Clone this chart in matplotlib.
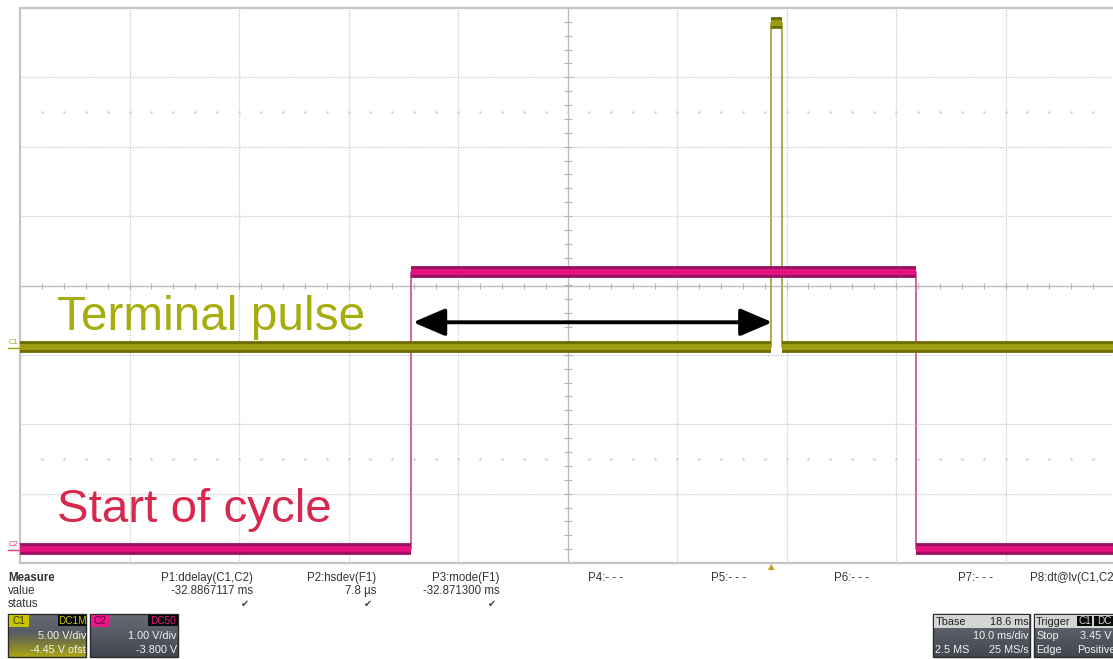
import numpy as np
import matplotlib.pyplot as plt
from matplotlib.patches import Rectangle, FancyArrowPatch
from matplotlib.lines import Line2D

plt.rcParams['font.family'] = ['Liberation Sans', 'DejaVu Sans']

# ---- scope data (time in ms, voltage in V) ----
c1_t = [0, 68.6, 68.6, 69.6, 69.6, 100]
c1_v = [0.0, 0.0, 23.4, 23.4, 0.0, 0.0]
c2_t = [0, 35.7, 35.7, 81.8, 81.8, 100]
c2_v = [0.0, 0.0, 4.0, 4.0, 0.0, 0.0]
c1_vdiv, c1_ofst = 5.0, -4.45
c2_vdiv, c2_ofst = 1.0, -3.8
arrow_t = [35.9, 68.7]

meas_names = ['P1:ddelay(C1,C2)', 'P2:hsdev(F1)', 'P3:mode(F1)', 'P4:- - -',
              'P5:- - -', 'P6:- - -', 'P7:- - -', 'P8:dt@lv(C1,C2)']
meas_values = ['-32.8867117 ms', '7.8 µs', '-32.871300 ms', '', '', '', '', '']
meas_ok = [True, True, True, False, False, False, False, False]

W, H = 1113, 659
fig = plt.figure(figsize=(W / 100, H / 100), dpi=100)
fig.patch.set_facecolor('white')


def px(x, y):
    return x / W, 1 - y / H


ax = fig.add_axes([20 / W, 1 - 563 / H, 1095 / W, 555 / H])
ax.set_xlim(0, 100)
ax.set_ylim(-4, 4)
ax.set_xticks([])
ax.set_yticks([])
for s in ax.spines.values():
    s.set_color('#c4c4c4')
    s.set_linewidth(1.6)

# grid
grid_col = '#c9c9c9'
for t in range(10, 100, 10):
    if t == 50:
        ax.axvline(t, color='#bdbdbd', lw=1.0, zorder=1)
    else:
        ax.axvline(t, color=grid_col, lw=0.9, ls=(0, (1, 1)), zorder=1)
for v in range(-3, 4):
    if v == 0:
        ax.axhline(v, color='#bdbdbd', lw=1.0, zorder=1)
    else:
        ax.axhline(v, color=grid_col, lw=0.9, ls=(0, (1, 1)), zorder=1)
# minor ticks on the centre cross, dot rows at +-2.5 div
tk = np.arange(2, 100, 2)
ax.plot(tk, np.zeros_like(tk), ls='none', marker='|', ms=5, mew=0.8, color='#b5b5b5', zorder=1)
vk = np.arange(-3.8, 4, 0.2)
ax.plot(np.full_like(vk, 50), vk, ls='none', marker='_', ms=6, mew=0.8, color='#b5b5b5', zorder=1)
for yy in (2.5, -2.5):
    ax.plot(tk, np.full_like(tk, yy, dtype=float), ls='none', marker='.', ms=1.5,
            color='#cfcfcf', zorder=1)


def trace(t, v, vdiv, ofst, thin, dark, core, band):
    y = [(vv + ofst) / vdiv for vv in v]
    ax.plot(t, y, color=thin, lw=1.3, zorder=3)
    for i in range(len(t) - 1):
        if y[i] == y[i + 1] and t[i] != t[i + 1]:
            ax.plot([t[i], t[i + 1]], [y[i], y[i]], color=dark, lw=band,
                    solid_capstyle='butt', zorder=4)
            ax.plot([t[i], t[i + 1]], [y[i], y[i]], color=core, lw=band * 0.5,
                    solid_capstyle='butt', zorder=5)


trace(c2_t, c2_v, c2_vdiv, c2_ofst, '#c85a9c', '#9c1060', '#e2127f', 8.5)
trace(c1_t, c1_v, c1_vdiv, c1_ofst, '#a7a640', '#6f6d00', '#9e9c10', 8.5)

# delay arrow
ya = -0.53
arr = FancyArrowPatch((arrow_t[0], ya), (arrow_t[1], ya),
                      arrowstyle='<|-|>,head_length=1.4,head_width=0.6',
                      mutation_scale=14, lw=2.8, color='black', zorder=6,
                      shrinkA=0, shrinkB=0)
ax.add_patch(arr)

ax.text(3.4, -0.64, 'Terminal pulse', color='#a6ad0e', fontsize=34.4, va='baseline', zorder=7)
ax.text(3.4, -3.41, 'Start of cycle', color='#d8284e', fontsize=34.2, va='baseline', zorder=7)

# channel markers at left edge
for yv, lab, col in (((0 + c1_ofst) / c1_vdiv, 'C1', '#a6a600'),
                     ((0 + c2_ofst) / c2_vdiv, 'C2', '#e0307f')):
    ypx = 285.5 - yv * 69.4
    fig.text(*px(9, ypx - 1), lab, color=col, fontsize=5.5, va='bottom', ha='left',
             rotation=0)
    fig.add_artist(Line2D([8 / W, 20 / W], [1 - (ypx + 0.5) / H] * 2, color=col, lw=1))

# trigger marker
fig.text(*px(771, 567), '▲', color='#b5a800', fontsize=6, ha='center', va='center',
         family=['DejaVu Sans'])

# measurement table
small = 8.3
txt = '#333333'
fig.text(*px(8, 578), 'Measure', fontsize=small, weight='bold', color=txt, va='center')
fig.text(*px(8, 591), 'value', fontsize=small, color=txt, va='center')
fig.text(*px(8, 604), 'status', fontsize=small, color=txt, va='center')
for i, (n, v, ok) in enumerate(zip(meas_names, meas_values, meas_ok)):
    xr = 253 + i * 123.3
    ha = 'right'
    xx = xr
    if i == 7:
        ha, xx = 'left', 1030
    fig.text(*px(xx, 578), n, fontsize=small, color=txt, va='center', ha=ha)
    if v:
        fig.text(*px(xr, 591), v, fontsize=small, color=txt, va='center', ha='right')
    if ok:
        fig.text(*px(xr - 4, 604), '✔', fontsize=7, color='#444444', va='center',
                 ha='right', family=['DejaVu Sans'])


def box_bg(x0, y0, w, h, glow=None):
    bax = fig.add_axes([x0 / W, 1 - (y0 + h) / H, w / W, h / H])
    g = np.linspace(0, 1, 60)[:, None]
    top = np.array([0.40, 0.42, 0.46])
    bot = np.array([0.26, 0.28, 0.31])
    img = top + (bot - top) * g[..., None]
    if glow is not None:
        gw = np.clip((g - 0.4) / 0.6, 0, 1)[..., None]
        img = img * (1 - 0.85 * gw) + np.array(glow) * 0.85 * gw
    bax.imshow(np.repeat(img, 2, axis=1), aspect='auto', extent=(0, 1, 0, 1))
    bax.set_xlim(0, 1)
    bax.set_ylim(0, 1)
    bax.axis('off')
    fig.add_artist(Rectangle(px(x0, y0 + h), w / W, h / H, fill=False,
                             ec='#2a2a2a', lw=1))


def tag(x0, y0, w, h, s, fc, tc):
    fig.add_artist(Rectangle(px(x0, y0 + h), w / W, h / H, fc=fc, ec='none'))
    fig.text(*px(x0 + w / 2, y0 + h / 2 + 0.5), s, fontsize=7.2, color=tc,
             ha='center', va='center')


white = '#f2f2f2'
# C1 box
box_bg(8, 614, 78, 43, glow=(0.74, 0.72, 0.05))
tag(9, 615, 20, 12, 'C1', '#c9c400', '#3a3a00')
tag(58, 615, 28, 11, 'DC1M', '#0a0a0a', '#c8c400')
fig.text(*px(86, 636), '5.00 V/div', fontsize=7.8, color=white, ha='right', va='center')
fig.text(*px(86, 650), '-4.45 V ofst', fontsize=7.8, color=white, ha='right', va='center')
# C2 box
box_bg(90, 614, 88, 43)
tag(91, 615, 18, 12, 'C2', '#e8198c', '#5a0030')
tag(148, 615, 30, 11, 'DC50', '#0a0a0a', '#e0207f')
fig.text(*px(177, 636), '1.00 V/div', fontsize=7.8, color=white, ha='right', va='center')
fig.text(*px(177, 650), '-3.800 V', fontsize=7.8, color=white, ha='right', va='center')

# Tbase box
box_bg(933, 614, 97, 43)
fig.add_artist(Rectangle(px(934, 628), 95 / W, 13 / H, fc='#d4d4d4', ec='none'))
fig.text(*px(936, 622), 'Tbase', fontsize=7.8, color='#222222', va='center')
fig.text(*px(1029, 622), '18.6 ms', fontsize=7.8, color='#222222', va='center', ha='right')
fig.text(*px(1029, 636), '10.0 ms/div', fontsize=7.8, color=white, va='center', ha='right')
fig.text(*px(935, 650), '2.5 MS', fontsize=7.8, color=white, va='center')
fig.text(*px(1029, 650), '25 MS/s', fontsize=7.8, color=white, va='center', ha='right')

# Trigger box (cut by the right edge, as in the screenshot)
box_bg(1034, 614, 90, 43)
fig.add_artist(Rectangle(px(1035, 628), 88 / W, 13 / H, fc='#d4d4d4', ec='none'))
fig.text(*px(1036, 622), 'Trigger', fontsize=7.8, color='#222222', va='center')
tag(1077, 616, 15, 10, 'C1', '#0a0a0a', '#d0d0d0')
tag(1094, 616, 20, 10, 'DC', '#0a0a0a', '#d0d0d0')
fig.text(*px(1036, 636), 'Stop', fontsize=7.8, color=white, va='center')
fig.text(*px(1080, 636), '3.45 V', fontsize=7.8, color=white, va='center')
fig.text(*px(1036, 650), 'Edge', fontsize=7.8, color=white, va='center')
fig.text(*px(1077, 650), 'Positive', fontsize=7.8, color=white, va='center')

fig.savefig('out.png', dpi=100)
